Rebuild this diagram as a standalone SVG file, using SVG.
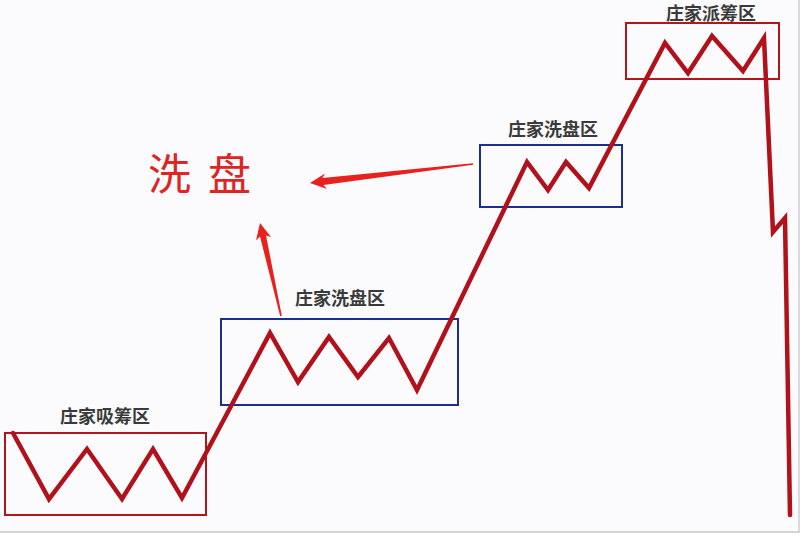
<svg xmlns="http://www.w3.org/2000/svg" width="800" height="538" viewBox="0 0 800 538">
<style>
.lbl{font-family:"Noto Sans CJK SC","Noto Sans",sans-serif;font-size:18px;font-weight:bold;fill:#3a3a3a;text-anchor:middle}
.big{font-family:"Noto Sans CJK SC","Noto Sans",sans-serif;font-size:43px;fill:#e02424}
.rbox{fill:none;stroke:#b2161d;stroke-width:2}
.bbox{fill:none;stroke:#1c2f8c;stroke-width:2}
.arr{fill:#e8201e}
</style>
<rect x="0" y="0" width="800" height="538" fill="#fbfbfd"/>
<rect x="0" y="533" width="800" height="5" fill="#ffffff"/>
<line x1="0" y1="532" x2="800" y2="532" stroke="#c8c8cc" stroke-width="1.5"/>
<line x1="799" y1="0" x2="799" y2="532" stroke="#d0d0d4" stroke-width="1.5"/>
<g id="zone-accumulate">
<rect class="rbox" x="5" y="433" width="201" height="82"/>
<text class="lbl" x="105" y="423">庄家吸筹区</text>
</g>
<g id="zone-wash1">
<rect class="bbox" x="221" y="319" width="237" height="86"/>
<text class="lbl" x="340" y="305">庄家洗盘区</text>
</g>
<g id="zone-wash2">
<rect class="bbox" x="480" y="145" width="142" height="62"/>
<text class="lbl" x="553" y="136">庄家洗盘区</text>
</g>
<g id="zone-distribute">
<rect class="rbox" x="626" y="23" width="153" height="56"/>
<text class="lbl" x="711" y="20">庄家派筹区</text>
</g>
<g id="label-wash">
<text class="big" x="148" y="190">洗 <tspan x="208">盘</tspan></text>
</g>
<g id="connectors">
<polyline fill="none" stroke="#b0111b" stroke-width="4.5" stroke-linejoin="miter" stroke-miterlimit="6" stroke-linecap="round" points="13,433 49,499 87,449 122,499 153,449 182,498 270,333 298,382 329,337 358,377 389,338 417,390 527,162 548,190 566,162 589,188 665,43 688,73 712,36 743,71 764,38 773,232 785,218 790,515"/>
<polygon class="arr" points="310,183 327,189 323.4,185 473.1,164.8 472.9,163.2 322.4,178 325,173.5"/>
<polygon class="arr" points="260,223 271,237 266,235.4 281.8,315.8 280.2,316.2 260,236.5 256,240.5"/>
</g>
</svg>
